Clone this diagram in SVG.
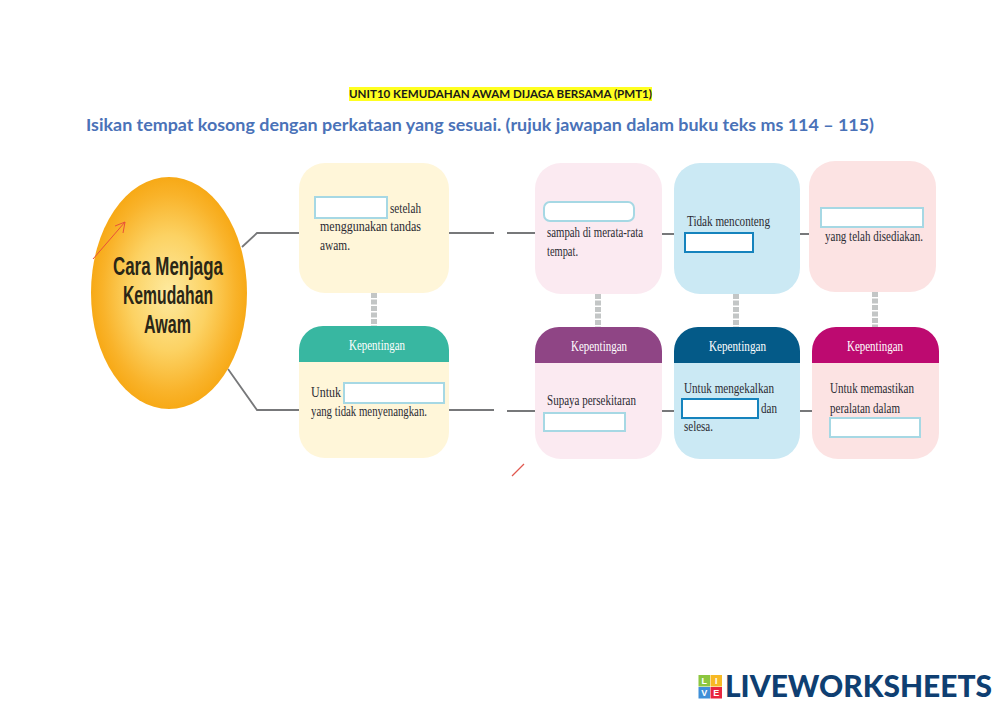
<svg xmlns="http://www.w3.org/2000/svg" width="1000" height="707" viewBox="0 0 1000 707">
<style>
.t{font-family:"Liberation Serif",serif;font-size:15px;fill:#2b2b33}
.k{font-family:"Liberation Serif",serif;font-size:15px;fill:#fff}
.c{font-family:"Liberation Sans",Arial,sans-serif;font-size:26px;font-weight:700;fill:#2a2616}
.box{fill:#fff;stroke:#a6d8e4;stroke-width:2}
.dark{fill:#fff;stroke:#1583bd;stroke-width:2}
.ln{fill:none;stroke:#77787a;stroke-width:1.8}
.ch{stroke:#c3c6c6;stroke-width:6;stroke-dasharray:5 1.5}
.tile{font-family:"Liberation Sans",Arial,sans-serif;font-size:9px;font-weight:700;fill:#fff;text-anchor:middle}
</style>
<defs>
<radialGradient id="eg" cx="50%" cy="50%" r="50%">
<stop offset="0" stop-color="#fdeaa0"/>
<stop offset="0.5" stop-color="#fcd263"/>
<stop offset="0.85" stop-color="#f9b32a"/>
<stop offset="1" stop-color="#f7a916"/>
</radialGradient>
</defs>
<rect width="1000" height="707" fill="#fff"/>

<g id="title">
<rect x="349" y="87" width="303" height="14" fill="#ffff20"/>
<text x="349" y="98" font-family="Lato,'Open Sans',sans-serif" font-size="11.500" font-weight="700" fill="#1a1a1a" textLength="303" lengthAdjust="spacingAndGlyphs">UNIT10 KEMUDAHAN AWAM DIJAGA BERSAMA (PMT1)</text>
</g>
<g id="instruction">
<text x="86" y="131" font-family="Lato,'Open Sans',sans-serif" font-size="17.500" font-weight="700" fill="#4a72b8" textLength="788" lengthAdjust="spacingAndGlyphs">Isikan tempat kosong dengan perkataan yang sesuai. (rujuk jawapan dalam buku teks ms 114 – 115)</text>
</g>

<g id="connectors">
<path class="ln" d="M242 247L257 233H299"/>
<path class="ln" d="M228 369L257 410H299"/>
<path class="ln" d="M449 233H494M507 233H535M662 234H674M800 234H809"/>
<path class="ln" d="M449 410H494M507 411H535M662 411H674M800 411H812"/>
<path class="ch" d="M374 293V326M598 294V327M736 294V327M875 292V327"/>
</g>

<g id="center">
<ellipse cx="169" cy="293" rx="78" ry="116" fill="url(#eg)"/>
<text class="c" x="113" y="275" textLength="110" lengthAdjust="spacingAndGlyphs">Cara Menjaga</text>
<text class="c" x="123" y="304" textLength="90" lengthAdjust="spacingAndGlyphs">Kemudahan</text>
<text class="c" x="144" y="333" textLength="47" lengthAdjust="spacingAndGlyphs">Awam</text>
<path d="M93 259L125 222M125 222L115 226M125 222L123 233" fill="none" stroke="#e8503a" stroke-width="1"/>
</g>

<g id="card1">
<rect x="299" y="163" width="150" height="130" rx="26" fill="#fff6d9"/>
<rect class="box" x="315" y="197" width="72" height="21"/>
<text class="t" x="390" y="213" textLength="31" lengthAdjust="spacingAndGlyphs">setelah</text>
<text class="t" x="320" y="231" textLength="101" lengthAdjust="spacingAndGlyphs">menggunakan tandas</text>
<text class="t" x="320" y="250" textLength="30" lengthAdjust="spacingAndGlyphs">awam.</text>
</g>
<g id="card1b">
<rect x="299" y="326" width="150" height="132" rx="26" fill="#fff6d9"/>
<path d="M299 362V350A24 24 0 0 1 323 326H425A24 24 0 0 1 449 350V362Z" fill="#38b7a1"/>
<text class="k" x="349" y="350" textLength="56" lengthAdjust="spacingAndGlyphs">Kepentingan</text>
<rect class="box" x="344" y="383" width="100" height="20"/>
<text class="t" x="311" y="397" textLength="30" lengthAdjust="spacingAndGlyphs">Untuk</text>
<text class="t" x="311" y="416" textLength="116" lengthAdjust="spacingAndGlyphs">yang tidak menyenangkan.</text>
</g>

<g id="card2">
<rect x="535" y="163" width="127" height="131" rx="26" fill="#fbeaf1"/>
<rect class="box" x="544" y="202" width="90" height="19" rx="6"/>
<text class="t" x="547" y="237" textLength="96" lengthAdjust="spacingAndGlyphs">sampah di merata-rata</text>
<text class="t" x="547" y="256" textLength="31" lengthAdjust="spacingAndGlyphs">tempat.</text>
</g>
<g id="card2b">
<rect x="535" y="327" width="127" height="132" rx="26" fill="#fbeaf1"/>
<path d="M535 363V351A24 24 0 0 1 559 327H638A24 24 0 0 1 662 351V363Z" fill="#8f4585"/>
<text class="k" x="571" y="351" textLength="56" lengthAdjust="spacingAndGlyphs">Kepentingan</text>
<text class="t" x="547" y="405" textLength="89" lengthAdjust="spacingAndGlyphs">Supaya persekitaran</text>
<rect class="box" x="544" y="413" width="81" height="18"/>
</g>

<g id="card3">
<rect x="674" y="163" width="126" height="131" rx="26" fill="#cbe9f4"/>
<text class="t" x="687" y="226" textLength="83" lengthAdjust="spacingAndGlyphs">Tidak menconteng</text>
<rect class="dark" x="685" y="233" width="68" height="19"/>
</g>
<g id="card3b">
<rect x="674" y="327" width="126" height="132" rx="26" fill="#cbe9f4"/>
<path d="M674 363V351A24 24 0 0 1 698 327H776A24 24 0 0 1 800 351V363Z" fill="#045a88"/>
<text class="k" x="709" y="351" textLength="57" lengthAdjust="spacingAndGlyphs">Kepentingan</text>
<text class="t" x="684" y="393" textLength="90" lengthAdjust="spacingAndGlyphs">Untuk mengekalkan</text>
<rect class="dark" x="682" y="399" width="76" height="19"/>
<text class="t" x="761" y="413" textLength="16" lengthAdjust="spacingAndGlyphs">dan</text>
<text class="t" x="684" y="431" textLength="29" lengthAdjust="spacingAndGlyphs">selesa.</text>
</g>

<g id="card4">
<rect x="809" y="161" width="127" height="131" rx="26" fill="#fce3e3"/>
<rect class="box" x="821" y="208" width="102" height="19"/>
<text class="t" x="825" y="241" textLength="98" lengthAdjust="spacingAndGlyphs">yang telah disediakan.</text>
</g>
<g id="card4b">
<rect x="812" y="327" width="127" height="132" rx="26" fill="#fce3e3"/>
<path d="M812 363V351A24 24 0 0 1 836 327H915A24 24 0 0 1 939 351V363Z" fill="#bd0a70"/>
<text class="k" x="847" y="351" textLength="56" lengthAdjust="spacingAndGlyphs">Kepentingan</text>
<text class="t" x="830" y="393" textLength="84" lengthAdjust="spacingAndGlyphs">Untuk memastikan</text>
<text class="t" x="830" y="413" textLength="70" lengthAdjust="spacingAndGlyphs">peralatan dalam</text>
<rect class="box" x="830" y="418" width="90" height="19"/>
</g>

<path d="M512 476L524 464" stroke="#e0584f" stroke-width="1.2" fill="none"/>

<g id="logo">
<rect x="698.500" y="675" width="11.500" height="11.500" fill="#8cc63f"/>
<rect x="710.500" y="675" width="11.500" height="11.500" fill="#f7b924"/>
<rect x="698.500" y="687" width="11.500" height="11.500" fill="#3f8fd8"/>
<rect x="710.500" y="687" width="11.500" height="11.500" fill="#e8263f"/>
<text class="tile" x="704.200" y="684">L</text>
<text class="tile" x="716.200" y="684">I</text>
<text class="tile" x="704.200" y="696">V</text>
<text class="tile" x="716.200" y="696">E</text>
<text x="725" y="697" font-family="Lato,'Open Sans',sans-serif" font-size="30" font-weight="900" fill="#0f3f72" textLength="267" lengthAdjust="spacingAndGlyphs">LIVEWORKSHEETS</text>
</g>
</svg>
